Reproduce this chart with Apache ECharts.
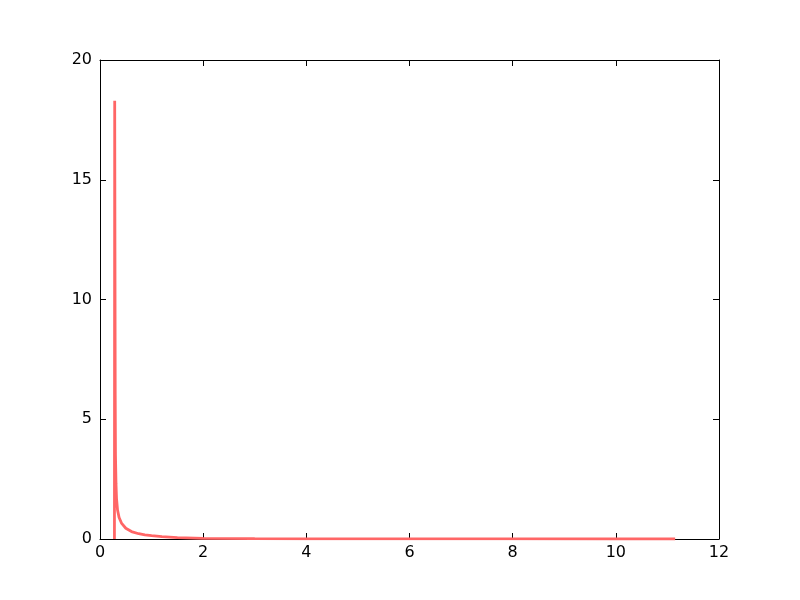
<!DOCTYPE html>
<html>
<head>
<meta charset="utf-8">
<script src="https://cdn.jsdelivr.net/npm/echarts@6/dist/echarts.min.js"></script>
<style>html,body{margin:0;padding:0;background:#fff}#c{width:800px;height:600px}</style>
</head>
<body>
<div id="c"></div>
<script>
const xValues = [0.28, 0.285, 0.29, 0.295, 0.30, 0.31, 0.32, 0.34, 0.37, 0.42, 0.5, 0.61, 0.75, 0.87, 1.0, 1.2, 1.5, 2.0, 3, 4, 6, 8, 10, 11.15];
const yValues = [0, 18.3, 12, 6, 3.5, 2.3, 1.7, 1.21, 0.9, 0.65, 0.45, 0.31, 0.22, 0.17, 0.14, 0.1, 0.06, 0.03, 0.015, 0.008, 0.004, 0.002, 0.001, 0.001];
const xTicks = [0, 2, 4, 6, 8, 10, 12];
const yTicks = [0, 5, 10, 15, 20];

const chart = echarts.init(document.getElementById('c'), null, {renderer: 'canvas'});
const font = 'DejaVu Sans';
const tickStyle = {show: true, inside: true, length: 6, lineStyle: {color: '#000', width: 1}};
const lineStyle = {show: true, onZero: false, lineStyle: {color: '#000', width: 1}};
chart.setOption({
  animation: false,
  backgroundColor: '#fff',
  grid: {left: 100, right: 81, top: 60, bottom: 61, containLabel: false},
  xAxis: [
    {type: 'value', min: 0, max: 12, interval: 2, position: 'bottom',
     axisLine: lineStyle, axisTick: tickStyle, splitLine: {show: false},
     axisLabel: {color: '#000', fontFamily: font, fontSize: 16, margin: 6}},
    {type: 'value', min: 0, max: 12, interval: 2, position: 'top',
     axisLine: lineStyle, axisTick: tickStyle, splitLine: {show: false}, axisLabel: {show: false}}
  ],
  yAxis: [
    {type: 'value', min: 0, max: 20, interval: 5, position: 'left',
     axisLine: lineStyle, axisTick: tickStyle, splitLine: {show: false},
     axisLabel: {color: '#000', fontFamily: font, fontSize: 16, margin: 8}},
    {type: 'value', min: 0, max: 20, interval: 5, position: 'right',
     axisLine: lineStyle, axisTick: tickStyle, splitLine: {show: false}, axisLabel: {show: false}}
  ],
  series: [{
    type: 'line',
    data: xValues.map((x, i) => [x, yValues[i]]),
    showSymbol: false,
    smooth: false,
    lineStyle: {color: '#ff6666', width: 2.8},
    clip: true
  }]
});
</script>
</body>
</html>
